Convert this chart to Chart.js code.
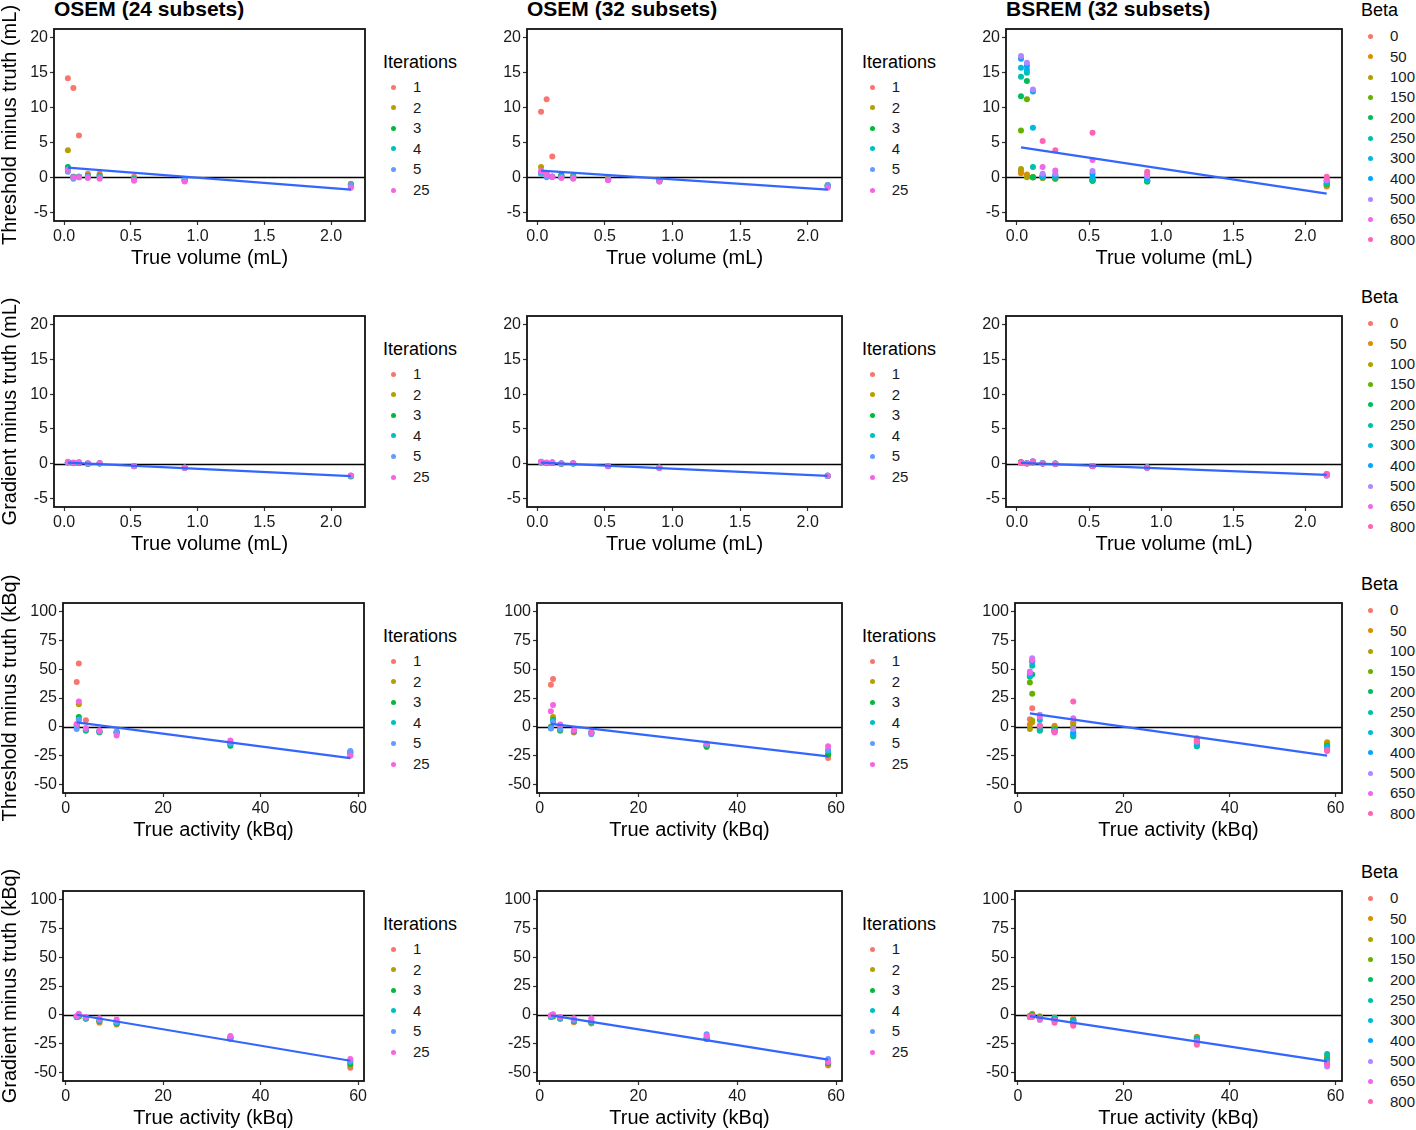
<!DOCTYPE html>
<html>
<head>
<meta charset="utf-8">
<script src="https://cdn.jsdelivr.net/npm/chart.js@4.4.1/dist/chart.umd.min.js"></script>
<style>
    body { margin: 0; width: 1416px; height: 1130px; position: relative; overflow: hidden; background: #fff;
           font-family: "Liberation Sans", Arial, sans-serif; color: #000; }
    canvas { position: absolute; }
    .titulo { position: absolute; font-weight: bold; font-size: 21px; line-height: 21px; white-space: nowrap; }
    .leyTitulo { position: absolute; font-size: 18px; line-height: 18px; white-space: nowrap; }
    .leyTexto { position: absolute; font-size: 15px; line-height: 20px; height: 20px; white-space: nowrap; color: #1a1a1a; }
    .punto { position: absolute; width: 5px; height: 5px; border-radius: 50%; }
</style>
</head>
<body>
<script>
// Posiciones en x (mismas esferas en todos los paneles)
const volumenes = [0.028, 0.069, 0.111, 0.178, 0.266, 0.524, 0.903, 2.148];
const actividades = [2.27, 2.71, 4.15, 6.93, 10.46, 33.8, 58.4];

const iteraciones = ['1', '2', '3', '4', '5', '25'];
const betas = ['0', '50', '100', '150', '200', '250', '300', '400', '500', '650', '800'];
const coloresIter = ['#F8766D', '#B79F00', '#00BA38', '#00BFC4', '#619CFF', '#F564E3'];
const coloresBeta = ['#F8766D', '#DB8E00', '#AEA200', '#64B200', '#00BD5C', '#00C1A7', '#00BADE', '#00A6FF', '#B385FF', '#EF67EB', '#FF63B6'];

const ticksVolX = [0, 0.5, 1, 1.5, 2];
const ticksVolY = [-5, 0, 5, 10, 15, 20];
const ticksActX = [0, 20, 40, 60];
const ticksActY = [-50, -25, 0, 25, 50, 75, 100];

// Fila 1: umbral - verdad (mL)
const umbralVolOsem24 = [
    [14.2, 12.8, 6.0, 0.5, 0.5, 0.1, -0.3, -0.9],
    [3.9, 0.1, 0.1, 0.3, 0.3, -0.2, -0.4, -1.0],
    [1.5, 0.1, 0.1, 0.2, 0.2, -0.2, -0.4, -1.1],
    [1.2, 0.0, 0.1, 0.1, 0.1, -0.3, -0.4, -1.2],
    [0.8, -0.2, 0.0, 0.1, 0.0, -0.3, -0.5, -1.1],
    [1.1, 0.0, 0.0, -0.1, -0.2, -0.5, -0.6, -1.5]
];
const umbralVolOsem32 = [
    [9.4, 11.2, 3.0, 0.2, 0.2, -0.1, -0.5, -1.1],
    [1.5, 0.5, 0.1, 0.3, 0.2, -0.2, -0.5, -1.2],
    [0.7, 0.3, 0.1, 0.3, 0.1, -0.3, -0.5, -1.3],
    [0.5, 0.2, 0.1, 0.1, 0.0, -0.3, -0.5, -1.2],
    [0.6, 0.0, 0.1, 0.0, 0.0, -0.3, -0.6, -1.1],
    [0.9, 0.4, 0.1, -0.1, -0.2, -0.4, -0.6, -1.5]
];
const umbralVolBsrem = [
    [0.9, 0.3, 0.0, 0.0, -0.2, -0.4, -0.5, -1.3],
    [0.6, 0.4, 0.0, -0.1, -0.2, -0.4, -0.5, -1.2],
    [1.2, 0.0, 0.0, -0.1, -0.2, -0.4, -0.5, -1.1],
    [6.7, 11.2, 0.0, 0.0, -0.1, -0.5, -0.6, -1.0],
    [11.6, 13.8, 0.0, 0.0, -0.1, -0.5, -0.6, -0.9],
    [14.4, 15.0, 1.5, 0.1, 0.0, -0.3, -0.4, -0.8],
    [15.7, 15.4, 7.1, 0.2, 0.2, 0.0, -0.2, -0.6],
    [17.0, 16.0, 12.3, 0.3, 0.3, 0.5, -0.1, -0.5],
    [17.4, 16.4, 12.6, 0.5, 0.5, 0.9, 0.2, -0.4],
    [null, null, null, 1.5, 1.0, 2.5, 0.5, -0.2],
    [null, null, null, 5.2, 3.9, 6.4, 0.8, 0.1]
];

// Fila 2: gradiente - verdad (mL)
const gradienteVolOsem24 = [
    [0.2, 0.1, 0.15, 0.0, 0.05, -0.35, -0.6, -1.75],
    [0.2, 0.1, 0.1, 0.0, 0.05, -0.35, -0.6, -1.8],
    [0.15, 0.05, 0.1, -0.05, 0.0, -0.4, -0.6, -1.85],
    [0.2, 0.1, 0.1, 0.0, 0.0, -0.35, -0.6, -1.8],
    [0.2, 0.1, 0.15, 0.0, 0.05, -0.35, -0.55, -1.75],
    [0.25, 0.15, 0.2, 0.0, 0.05, -0.4, -0.65, -1.7]
];
const gradienteVolOsem32 = [
    [0.2, 0.1, 0.15, 0.0, 0.0, -0.35, -0.6, -1.75],
    [0.2, 0.1, 0.1, 0.0, 0.0, -0.35, -0.6, -1.8],
    [0.15, 0.05, 0.1, -0.05, 0.0, -0.4, -0.6, -1.8],
    [0.2, 0.1, 0.1, 0.0, 0.0, -0.35, -0.6, -1.75],
    [0.25, 0.1, 0.15, 0.05, 0.05, -0.35, -0.55, -1.7],
    [0.25, 0.15, 0.2, 0.0, 0.05, -0.4, -0.65, -1.75]
];
const gradienteVolBsrem = [
    [0.2, 0.05, 0.15, 0.0, -0.05, -0.35, -0.55, -1.55],
    [0.2, 0.05, 0.15, 0.0, -0.05, -0.35, -0.55, -1.55],
    [0.15, 0.05, 0.2, 0.0, -0.05, -0.35, -0.55, -1.6],
    [0.15, 0.05, 0.2, 0.05, -0.05, -0.35, -0.55, -1.6],
    [0.15, 0.05, 0.25, 0.05, -0.05, -0.35, -0.55, -1.6],
    [0.15, 0.05, 0.25, 0.05, 0.0, -0.35, -0.55, -1.65],
    [0.1, 0.05, 0.3, 0.05, 0.0, -0.35, -0.55, -1.65],
    [0.1, 0.05, 0.3, 0.05, 0.0, -0.35, -0.55, -1.7],
    [0.1, 0.05, 0.35, 0.05, 0.0, -0.35, -0.55, -1.75],
    [0.1, 0.0, 0.3, 0.0, -0.05, -0.4, -0.6, -1.55],
    [0.1, 0.0, 0.25, 0.0, -0.1, -0.4, -0.6, -1.5]
];

// Fila 3: umbral - verdad (kBq)
const umbralActOsem24 = [
    [39, 55, 5.6, -4, -4, -13, -25],
    [2, 19.5, -3.5, -5, -5, -15, -23],
    [1, 8.5, -3, -4.5, -5.5, -16.5, -22],
    [0, 6.5, -2.5, -4, -5, -15, -22],
    [-2, 6, -2, -4, -4.5, -14, -21],
    [2.5, 22, -1, -3, -7.5, -12, -25]
];
const umbralActOsem32 = [
    [36.5, 41.5, 1, -5, -5, -16, -27],
    [0, 8.5, -3.5, -4, -5, -17.5, -24],
    [-0.5, 6, -3, -4, -5, -17, -24],
    [-1, 5, -2.5, -3.5, -5.5, -16, -21],
    [-1.5, 4, -2, -3, -6.5, -15, -20],
    [13.5, 19, 2, -3, -5, -14.5, -17]
];
const umbralActBsrem = [
    [6.5, 16, 1, 1, 4, -10, -14],
    [2, 4, 0, 0, 3, -11, -13.5],
    [-2, 5.5, -1, -1, 1, -12, -15],
    [38.5, 28.7, -2, -2, -1, -14, -16],
    [43.5, 45.5, -3, -2.5, -7.5, -17, -17],
    [44, 53, -3.5, -3, -8.5, -16.5, -17.5],
    [45, 56.5, 6, -3.5, -6, -15, -18],
    [46, 57, 0, -4, -5, -14, -19],
    [48, 59.5, 10.5, -4.5, -2, -13, -20],
    [47, 58, 9, -5, 7.5, -12.5, -21],
    [null, null, 1, -4, 22, -12, -20.5]
];

// Fila 4: gradiente - verdad (kBq)
const gradienteActOsem24 = [
    [-2, -1.5, -3.5, -7, -8.5, -21, -46],
    [-2, -1.5, -3.5, -6, -8, -20.5, -44],
    [-2, -1, -3, -5.5, -7.5, -20, -42.5],
    [-1.5, -0.5, -3, -5, -7, -20, -41],
    [-1.5, 0, -2.5, -4.5, -6, -19.5, -40],
    [-1, 0.8, -2, -3, -4, -18.5, -38.5]
];
const gradienteActOsem32 = [
    [-2, -1.5, -3.5, -6.5, -7.5, -21, -44],
    [-2, -1.5, -3.5, -6, -7, -20.5, -43],
    [-1.5, -1, -3, -5.5, -6.5, -20, -42],
    [-1.5, -0.5, -3, -5, -6, -21, -41],
    [-1, 0, -2.5, -4.5, -5.5, -17, -38.5],
    [-0.5, 0.5, -2, -3, -3, -18.5, -41]
];
const gradienteActBsrem = [
    [-1, 1, -1.5, -2.5, -3.5, -19, -36],
    [-1, 0.5, -1.5, -2.5, -4, -19.5, -37],
    [-1, 0, -2, -3, -4.5, -20, -38],
    [-1.5, -0.5, -2, -3, -5, -20.5, -38.5],
    [-1.5, -0.5, -2.5, -3.5, -5, -21, -39],
    [-1.5, -1, -2.5, -3.5, -5.5, -21, -34],
    [-1.5, -1, -3, -4, -6, -22, -40],
    [-2, -1.5, -3, -4.5, -6.5, -22.5, -41],
    [-2, -2, -4.5, -5, -7.5, -23, -45],
    [-2, -1.5, -3.5, -5.5, -8.5, -24, -43],
    [-2, -1.5, -3.5, -7, -9.5, -26, -42]
];

// Recta de regresión (valor en la primera y la última esfera)
const ajusteUmbralVolOsem24 = [1.4, -1.75];
const ajusteUmbralVolOsem32 = [0.96, -1.76];
const ajusteUmbralVolBsrem = [4.3, -2.33];
const ajusteGradienteVolOsem24 = [0.15, -1.8];
const ajusteGradienteVolOsem32 = [0.15, -1.78];
const ajusteGradienteVolBsrem = [0.1, -1.62];
const ajusteUmbralActOsem24 = [3.8, -27.2];
const ajusteUmbralActOsem32 = [2.6, -25.7];
const ajusteUmbralActBsrem = [11.6, -25.1];
const ajusteGradienteActOsem24 = [0, -39.9];
const ajusteGradienteActOsem32 = [-0.5, -39];
const ajusteGradienteActBsrem = [-1.2, -40.5];

// Caja de cada panel (px)
const filasCaja = [[29, 221], [316, 507], [603, 793], [891, 1081]];
const colsVol = [[54, 365], [527, 842], [1006, 1342]];
const colsAct = [[63, 364], [537, 842], [1015, 1342]];

Chart.defaults.font.family = '"Liberation Sans", Arial, sans-serif';
Chart.defaults.color = '#1a1a1a';

// Marco negro y línea en cero
const marco = {
    id: 'marco',
    beforeDatasetsDraw(chart) {
        const { ctx, chartArea: a, scales: { y } } = chart;
        const py = Math.round(y.getPixelForValue(0)) + 0.5;
        ctx.save();
        ctx.strokeStyle = '#000';
        ctx.lineWidth = 1.3;
        ctx.beginPath();
        ctx.moveTo(a.left, py);
        ctx.lineTo(a.right, py);
        ctx.stroke();
        ctx.restore();
    },
    afterDatasetsDraw(chart) {
        const { ctx, chartArea: a } = chart;
        ctx.save();
        ctx.strokeStyle = '#111';
        ctx.lineWidth = 1.8;
        ctx.strokeRect(a.left, a.top, a.right - a.left, a.bottom - a.top);
        ctx.restore();
    }
};

function escala(min, max, ticks, decimales, titulo, fijar) {
    return {
        type: 'linear',
        min: min,
        max: max,
        afterBuildTicks: s => { s.ticks = ticks.map(v => ({ value: v })); },
        afterFit: fijar,
        ticks: { font: { size: 16 }, color: '#1a1a1a', padding: 2, callback: v => Number(v).toFixed(decimales) },
        grid: { drawOnChartArea: false, drawTicks: true, tickLength: 4, tickColor: '#333', tickWidth: 1.2 },
        border: { display: false },
        title: { display: !!titulo, text: titulo, font: { size: 20, lineHeight: 1 }, color: '#000', padding: 0 }
    };
}

function crearPanel(fila, col, datos, ajuste, tituloY) {
    const esVol = fila < 2;
    const [top, bottom] = filasCaja[fila];
    const [left, right] = (esVol ? colsVol : colsAct)[col];
    const xs = esVol ? volumenes : actividades;
    const colores = col === 2 ? coloresBeta : coloresIter;
    const anchoY = col === 0 ? left : 50;
    const padTop = Math.min(30, top);
    const altoX = 47;

    const canvas = document.createElement('canvas');
    const cLeft = left - anchoY, cTop = top - padTop;
    canvas.width = right + 6 - cLeft;
    canvas.height = bottom + altoX - cTop;
    canvas.style.left = cLeft + 'px';
    canvas.style.top = cTop + 'px';
    document.body.appendChild(canvas);

    const conjuntos = datos.map((serie, i) => ({
        label: (col === 2 ? betas : iteraciones)[i],
        data: xs.map((x, j) => ({ x: x, y: serie[j] })).filter(p => p.y !== null),
        backgroundColor: colores[i],
        pointRadius: 3,
        pointBorderWidth: 0,
        order: datos.length - i + 1
    }));
    conjuntos.push({
        type: 'line',
        label: 'lm',
        data: [{ x: xs[0], y: ajuste[0] }, { x: xs[xs.length - 1], y: ajuste[1] }],
        borderColor: '#3366FF',
        borderWidth: 2.2,
        pointRadius: 0,
        order: 0
    });

    new Chart(canvas, {
        type: 'scatter',
        data: { datasets: conjuntos },
        options: {
            responsive: false,
            animation: false,
            devicePixelRatio: 1,
            layout: { padding: { top: padTop, right: 6, left: 0, bottom: 0 } },
            plugins: { legend: { display: false }, tooltip: { enabled: false } },
            scales: {
                x: esVol
                    ? escala(-0.076, 2.254, ticksVolX, 1, 'True volume (mL)', s => { s.height = altoX; })
                    : escala(-0.54, 61.21, ticksActX, 0, 'True activity (kBq)', s => { s.height = altoX; }),
                y: esVol
                    ? escala(-6.25, 21.25, ticksVolY, 0, col === 0 ? tituloY : '', s => { s.width = anchoY; })
                    : escala(-57.5, 107.5, ticksActY, 0, col === 0 ? tituloY : '', s => { s.width = anchoY; })
            }
        },
        plugins: [marco]
    });
}

function crearLeyenda(fila, col) {
    const top = filasCaja[fila][0];
    const esBeta = col === 2;
    const grupos = esBeta ? betas : iteraciones;
    const colores = esBeta ? coloresBeta : coloresIter;
    const xTitulo = [383, 862, 1361][col];
    const xPunto = [393.3, 872.3, 1370][col];
    const xTexto = [413, 891.7, 1390][col];
    const baseTitulo = top + (esBeta ? -13.3 : 39);
    const yPrimero = top + (esBeta ? 7.4 : 58);
    const paso = esBeta ? 20.33 : 20.6;

    const t = document.createElement('div');
    t.className = 'leyTitulo';
    t.textContent = esBeta ? 'Beta' : 'Iterations';
    t.style.left = xTitulo + 'px';
    t.style.top = (baseTitulo - 15.2) + 'px';
    document.body.appendChild(t);

    grupos.forEach((g, i) => {
        const cy = yPrimero + i * paso;
        const p = document.createElement('div');
        p.className = 'punto';
        p.style.left = (xPunto - 2.5) + 'px';
        p.style.top = (cy - 2.5) + 'px';
        p.style.background = colores[i];
        document.body.appendChild(p);
        const e = document.createElement('div');
        e.className = 'leyTexto';
        e.textContent = g;
        e.style.left = xTexto + 'px';
        e.style.top = (cy - 10) + 'px';
        document.body.appendChild(e);
    });
}

// Títulos de columna
['OSEM (24 subsets)', 'OSEM (32 subsets)', 'BSREM (32 subsets)'].forEach((txt, c) => {
    const d = document.createElement('div');
    d.className = 'titulo';
    d.textContent = txt;
    d.style.left = colsVol[c][0] + 'px';
    d.style.top = '-2.5px';
    document.body.appendChild(d);
});

crearPanel(0, 0, umbralVolOsem24, ajusteUmbralVolOsem24, 'Threshold minus truth (mL)');
crearPanel(0, 1, umbralVolOsem32, ajusteUmbralVolOsem32);
crearPanel(0, 2, umbralVolBsrem, ajusteUmbralVolBsrem);
crearPanel(1, 0, gradienteVolOsem24, ajusteGradienteVolOsem24, 'Gradient minus truth (mL)');
crearPanel(1, 1, gradienteVolOsem32, ajusteGradienteVolOsem32);
crearPanel(1, 2, gradienteVolBsrem, ajusteGradienteVolBsrem);
crearPanel(2, 0, umbralActOsem24, ajusteUmbralActOsem24, 'Threshold minus truth (kBq)');
crearPanel(2, 1, umbralActOsem32, ajusteUmbralActOsem32);
crearPanel(2, 2, umbralActBsrem, ajusteUmbralActBsrem);
crearPanel(3, 0, gradienteActOsem24, ajusteGradienteActOsem24, 'Gradient minus truth (kBq)');
crearPanel(3, 1, gradienteActOsem32, ajusteGradienteActOsem32);
crearPanel(3, 2, gradienteActBsrem, ajusteGradienteActBsrem);

for (let f = 0; f < 4; f++) {
    for (let c = 0; c < 3; c++) crearLeyenda(f, c);
}
</script>
</body>
</html>
